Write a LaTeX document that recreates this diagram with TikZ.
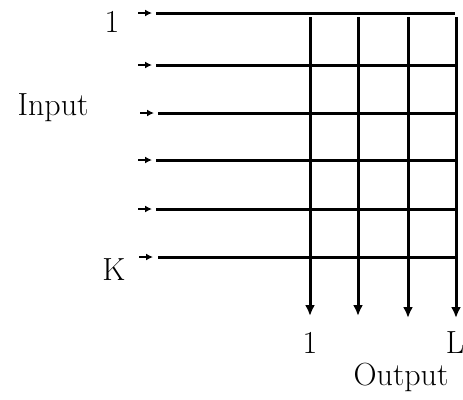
\documentclass[tikz,border=0pt]{standalone}
\usepackage{tikz}
\usetikzlibrary{arrows.meta}
\tikzset{
  lbl/.style ={font=\fontsize{32}{36}\selectfont, inner sep=0pt, anchor=base},
  wire/.style ={line width=3pt},
  inarr/.style ={-{Latex[length=7pt, width=7pt]}, line width=1.8pt},
  outarr/.style ={-{Latex[length=11pt, width=10pt]}, line width=3pt}
}
\begin{document}
\begin{tikzpicture}[x=1pt, y=-1pt]
  \useasboundingbox (0,0) rectangle (463,399);
  % input rows
  \coordinate (a1) at (138,13);  \coordinate (b1) at (152,13);
  \coordinate (a2) at (138,65);  \coordinate (b2) at (152,65);
  \coordinate (a3) at (140,113); \coordinate (b3) at (154,113);
  \coordinate (a4) at (138,160); \coordinate (b4) at (152,160);
  \coordinate (a5) at (138,209); \coordinate (b5) at (152,209);
  \coordinate (a6) at (139,257); \coordinate (b6) at (153,257);
  \coordinate (s1) at (156,13);  \coordinate (e1) at (455,13);
  \coordinate (s2) at (156,65);  \coordinate (e2) at (456,65);
  \coordinate (s3) at (158,113); \coordinate (e3) at (456,113);
  \coordinate (s4) at (156,160); \coordinate (e4) at (456,160);
  \coordinate (s5) at (156,209); \coordinate (e5) at (456,209);
  \coordinate (s6) at (158,257); \coordinate (e6) at (456,257);
  % output columns
  \coordinate (t1) at (310,17); \coordinate (o1) at (310,316);
  \coordinate (t2) at (358,17); \coordinate (o2) at (358,316);
  \coordinate (t3) at (408,17); \coordinate (o3) at (408,318);
  \coordinate (t4) at (456,17); \coordinate (o4) at (456,318);
  % labels
  \node[lbl] (in1) at (112,32) {1};
  \node[lbl] (inK) at (114,280) {K};
  \node[lbl] (inp) at (53,115) {Input};
  \node[lbl] (out1) at (310,353) {1};
  \node[lbl] (outL) at (455,353) {L};
  \node[lbl] (outp) at (401,385) {Output};
  \foreach \i in {1,...,6} {
    \draw[inarr] (a\i) -- (b\i);
    \draw[wire] (s\i) -- (e\i);
  }
  \foreach \j in {1,...,4}
    \draw[outarr] (t\j) -- (o\j);
\end{tikzpicture}
\end{document}
